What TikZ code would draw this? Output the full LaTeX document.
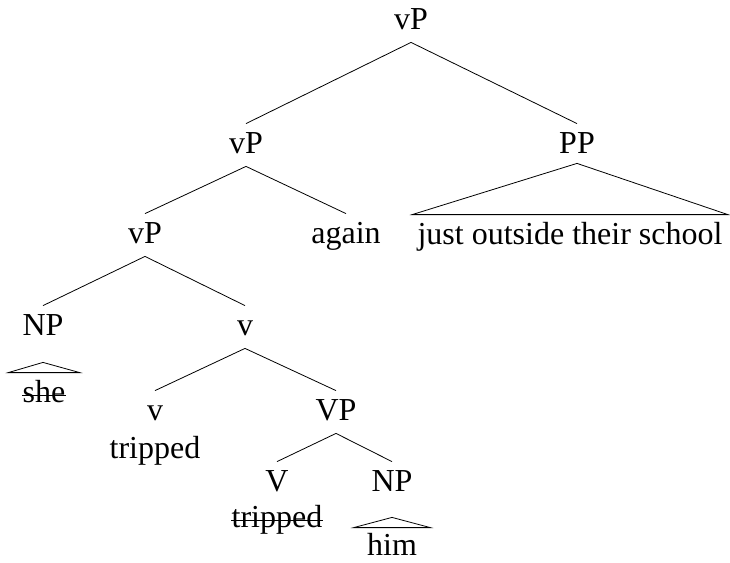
\documentclass[tikz,border=0pt]{standalone}
\usepackage{fontspec}
\setmainfont{Liberation Serif}

\begin{document}
\begin{tikzpicture}[x=1pt, y=-1pt, line width=0.8pt,
    cat/.style={anchor=base, font=\fontsize{32pt}{38pt}\selectfont, inner xsep=0pt, inner ysep=7pt, text height=22pt, text depth=6pt}]

    \useasboundingbox (0,0) rectangle (730,562);

    \node[cat] (top) at (411,29) {vP};
    \node[cat] (vpb) at (246,153) {vP};
    \node[cat] (pp) at (577,153) {PP};
    \node[cat] (vpc) at (145,243) {vP};
    \node[cat] (again) at (346,243) {again};
    \node[cat] (school) at (570,244) {just outside their school};
    \node[cat] (npa) at (43,335) {NP};
    \node[cat] (vbar) at (245,335) {v};
    \node[cat] (she) at (44,402) {she};
    \node[cat] (vlow) at (155,420) {v};
    \node[cat] (vpp) at (336,420) {VP};
    \node[cat] (trippeda) at (155,458) {tripped};
    \node[cat] (vv) at (277,491) {V};
    \node[cat] (npb) at (392,491) {NP};
    \node[cat] (trippedb) at (277,527) {tripped};
    \node[cat, text depth=2pt, inner ysep=5pt] (him) at (392,555) {him};
\path
        (top.south) edge (vpb.north)
        (top.south) edge (pp.north)
        (vpb.south) edge (vpc.north)
        (vpb.south) edge (again.north)
        (vpc.south) edge (npa.north)
        (vpc.south) edge (vbar.north)
        (vbar.south) edge (vlow.north)
        (vbar.south) edge (vpp.north)
        (vpp.south) edge (vv.north)
        (vpp.south) edge (npb.north)
;
    \draw ([yshift=3pt]pp.south) -- ([xshift=-5pt]school.north west) -- ([xshift=5pt]school.north east) -- cycle;
    \draw ([yshift=-14pt]npa.south) -- ([xshift=-14pt]she.north west) -- ([xshift=14pt]she.north east) -- cycle;
    \draw ([yshift=-13pt]npb.south) -- ([xshift=-13pt]him.north west) -- ([xshift=13pt]him.north east) -- cycle;

    \draw ([yshift=7pt]she.base west) -- ([yshift=7pt]she.base east);
    \draw ([yshift=7pt]trippedb.base west) -- ([yshift=7pt]trippedb.base east);
\end{tikzpicture}
\end{document}
